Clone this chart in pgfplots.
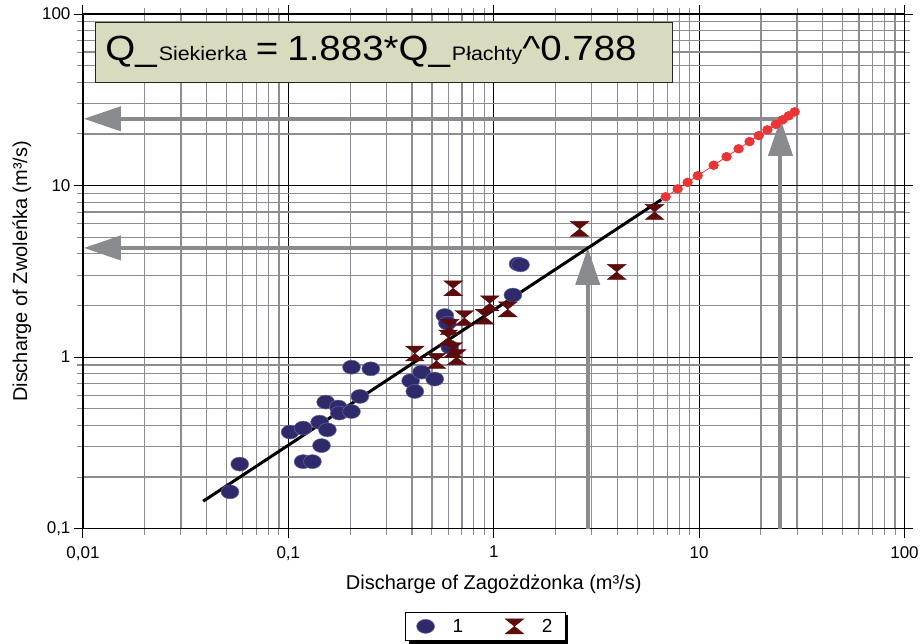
\documentclass[border=0pt]{standalone}
\usepackage{fontspec}
\setmainfont{Liberation Sans}
\newfontfamily\eqfont[FakeStretch=1.1]{Liberation Sans}
\usepackage{pgfplots}
\pgfplotsset{compat=1.18}
\usetikzlibrary{arrows.meta,shadows,calc}

\definecolor{ptblue}{HTML}{2F2B6B}
\definecolor{ptblueedge}{HTML}{6664A6}
\definecolor{ptred}{HTML}{5E0B0B}
\definecolor{extred}{HTML}{EC3434}
\definecolor{arrowgray}{HTML}{8A8B8F}
\definecolor{eqbox}{HTML}{D9DBBF}
\definecolor{mingrid}{HTML}{8C8C92}

% hourglass marker for series 2
\pgfdeclareplotmark{hourglass}{%
  \pgfpathmoveto{\pgfpoint{-1.25\pgfplotmarksize}{\pgfplotmarksize}}%
  \pgfpathlineto{\pgfpoint{1.25\pgfplotmarksize}{\pgfplotmarksize}}%
  \pgfpathlineto{\pgfpoint{0pt}{0pt}}%
  \pgfpathlineto{\pgfpoint{1.25\pgfplotmarksize}{-\pgfplotmarksize}}%
  \pgfpathlineto{\pgfpoint{-1.25\pgfplotmarksize}{-\pgfplotmarksize}}%
  \pgfpathlineto{\pgfpoint{0pt}{0pt}}%
  \pgfpathclose
  \pgfusepathqfillstroke}

\begin{document}
\begin{tikzpicture}
\begin{axis}[
  scale only axis, width=822pt, height=515pt,
  xmode=log, ymode=log, xmin=0.01, xmax=100, ymin=0.1, ymax=100,
  xtick={0.01,0.1,1,10,100}, xticklabels={{0,01},{0,1},1,10,100},
  ytick={0.1,1,10,100}, yticklabels={{0,1},1,10,100},
  minor xtick={0.02,0.03,0.04,0.05,0.06,0.07,0.08,0.09,
               0.2,0.3,0.4,0.5,0.6,0.7,0.8,0.9,2,3,4,5,6,7,8,9,
               20,30,40,50,60,70,80,90},
  minor ytick={0.2,0.3,0.4,0.5,0.6,0.7,0.8,0.9,2,3,4,5,6,7,8,9,
               20,30,40,50,60,70,80,90},
  grid=both,
  major grid style={black, line width=0.9pt},
  minor grid style={mingrid, line width=1.3pt},
  tick align=outside,
  major tick length=9pt, minor tick length=6pt,
  major tick style={black, line width=0.9pt},
  minor tick style={mingrid, line width=1.1pt},
  axis line style={black, line width=1.2pt},
  tick label style={font=\fontsize{17}{19}\selectfont},
  xticklabel shift=5pt,
  label style={font=\fontsize{20}{22}\selectfont},
  xlabel shift=8pt, ylabel shift=4pt,
  /pgf/number format/assume math mode=true,
  xlabel={Discharge of Zagożdżonka (m³/s)},
  ylabel={Discharge of Zwoleńka (m³/s)},
  legend style={at={(0.49,-0.161)}, anchor=north, legend columns=2,
    draw=black, line width=0.8pt, fill=white,
    drop shadow={shadow xshift=3pt, shadow yshift=-3pt, fill=black, opacity=1},
    font=\fontsize{19}{21}\selectfont, inner ysep=5pt, inner xsep=11pt,
    /tikz/every odd column/.append style={column sep=16pt},
    /tikz/every even column/.append style={column sep=40pt}},
]
% reading arrows
\addplot[arrowgray, line width=4pt, -{Triangle[length=37pt,width=24pt]}, forget plot]
  coordinates {(2.87,0.1) (2.87,4.33)};
\addplot[arrowgray, line width=4pt, -{Triangle[length=37pt,width=24pt]}, forget plot]
  coordinates {(2.87,4.33) (0.0101,4.33)};
\addplot[arrowgray, line width=4pt, -{Triangle[length=37pt,width=24pt]}, forget plot]
  coordinates {(24.9,0.1) (24.9,24.5)};
\addplot[arrowgray, line width=4pt, -{Triangle[length=37pt,width=24pt]}, forget plot]
  coordinates {(24.9,24.5) (0.0101,24.5)};

% series 1
\addplot[only marks, mark=*, mark size=7pt,
  mark options={xscale=1.28, fill=ptblue, draw=ptblueedge, line width=0.5pt}]
  coordinates {
  (0.052,0.164) (0.058,0.238) (0.102,0.366) (0.118,0.386) (0.118,0.246)
  (0.131,0.246) (0.145,0.305) (0.142,0.418) (0.155,0.377) (0.152,0.547)
  (0.175,0.512) (0.177,0.472) (0.203,0.482) (0.223,0.59) (0.203,0.874)
  (0.252,0.855) (0.394,0.728) (0.445,0.818) (0.413,0.631) (0.516,0.745)
  (0.578,1.747) (0.595,1.578) (0.611,1.143) (1.24,2.30) (1.313,3.49)
  (1.35,3.45)};
\addlegendentry{1}

% fitted power line
\addplot[black, line width=3pt, forget plot]
  coordinates {(0.0385,0.1446) (6.55,8.28)};

% extrapolated part
\addplot[extred, line width=0.8pt, mark=*, mark size=4.3pt,
  mark options={xscale=1.1}, forget plot]
  coordinates {
  (6.87,8.60) (7.86,9.56) (8.79,10.44) (9.84,11.41) (11.77,13.14)
  (13.6,14.73) (15.57,16.38) (17.6,18.04) (19.5,19.56) (21.5,21.12)
  (23.6,22.73) (25.5,24.17) (27.3,25.50) (29.2,26.89)};

% series 2
\addplot[only marks, mark=hourglass, mark size=7.5pt,
  mark options={fill=ptred, draw=ptred, line width=0.4pt}]
  coordinates {
  (0.413,1.05) (0.526,0.951) (0.634,1.10) (0.66,1.0) (0.60,1.30)
  (0.61,1.50) (0.72,1.69) (0.904,1.72) (0.956,2.06) (1.17,1.90)
  (0.634,2.52) (2.62,5.59) (3.97,3.14) (6.07,7.02)};
\addlegendentry{2}

\node[anchor=west, fill=eqbox, draw=black!85, line width=1pt,
  text width=557pt, inner xsep=10pt, minimum height=60pt, align=left]
  at (rel axis cs:0.0146,0.926)
  {\eqfont\fontsize{35}{40}\selectfont Q\_\hspace{2pt}{\fontsize{19.5}{20}\selectfont Siekierka}\hspace{9pt}=\hspace{9pt}1.883*Q\_\hspace{2pt}{\fontsize{19.5}{20}\selectfont Płachty}\textasciicircum0.788};
\end{axis}
\path ($(current axis.south west)+(-83pt,-115pt)$) rectangle
      ($(current axis.north east)+(17pt,14pt)$);
\end{tikzpicture}
\end{document}
